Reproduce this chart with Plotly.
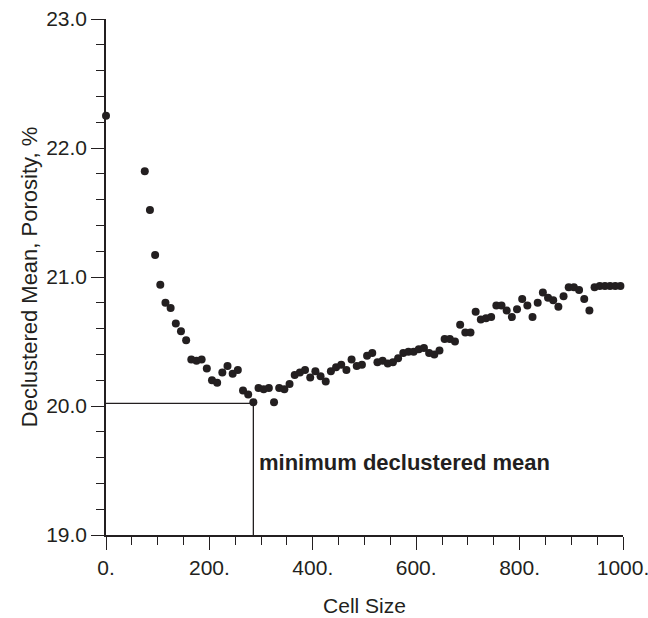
import plotly.graph_objects as go

# Data
cell_size = [0] + list(range(75, 1000, 10))
declustered_mean = [
    22.25,
    21.82, 21.52, 21.17, 20.94, 20.80, 20.76, 20.64, 20.58, 20.51, 20.36,
    20.35, 20.36, 20.29, 20.20, 20.18, 20.26, 20.31, 20.25, 20.28, 20.12,
    20.09, 20.03, 20.14, 20.13, 20.14, 20.03, 20.14, 20.13, 20.17, 20.24,
    20.26, 20.28, 20.22, 20.27, 20.23, 20.19, 20.27, 20.30, 20.32, 20.28,
    20.36, 20.31, 20.32, 20.39, 20.41, 20.34, 20.35, 20.33, 20.34, 20.37,
    20.41, 20.42, 20.42, 20.44, 20.45, 20.41, 20.40, 20.43, 20.52, 20.52,
    20.50, 20.63, 20.57, 20.57, 20.73, 20.67, 20.68, 20.69, 20.78, 20.78,
    20.74, 20.69, 20.75, 20.83, 20.78, 20.69, 20.80, 20.88, 20.84, 20.82,
    20.77, 20.85, 20.92, 20.92, 20.90, 20.83, 20.74, 20.92, 20.93, 20.93,
    20.93, 20.93, 20.93,
]
x_tick_step = 200
y_tick_step = 1
min_cell = 285
min_mean = 20.02
annotation_text = "minimum declustered mean"

ink = "#231f20"
font_family = "Liberation Sans, Arial, Helvetica, sans-serif"

fig = go.Figure()
fig.add_trace(go.Scatter(
    x=[0, min_cell, min_cell], y=[min_mean, min_mean, 19],
    mode="lines", line=dict(color=ink, width=1.3),
    hoverinfo="skip", showlegend=False, cliponaxis=False,
))
fig.add_trace(go.Scatter(
    x=cell_size, y=declustered_mean, mode="markers",
    marker=dict(color=ink, size=8, line=dict(width=0)),
    showlegend=False, cliponaxis=False,
))
fig.add_annotation(
    x=min_cell, y=19.56, xshift=4, text=annotation_text, showarrow=False,
    xanchor="left", yanchor="middle",
    font=dict(family=font_family, size=22, color=ink, weight="bold"),
)

axis_common = dict(
    showgrid=False, zeroline=False, showline=True, linecolor=ink, linewidth=1.5,
    ticks="outside", ticklen=13, tickwidth=1.3, tickcolor=ink,
    tickfont=dict(family=font_family, size=21, color=ink),
    ticklabeloverflow="allow",
)
fig.update_xaxes(
    range=[0, 1000], tickmode="linear", tick0=0, dtick=x_tick_step,
    tickformat="d", ticksuffix=".",
    title=dict(text="Cell Size", font=dict(family=font_family, size=21, color=ink), standoff=20),
    minor=dict(tick0=0, dtick=50, ticks="outside", ticklen=8, tickwidth=1.3, tickcolor=ink, showgrid=False),
    **axis_common,
)
fig.update_yaxes(
    range=[19, 23], tickmode="linear", tick0=19, dtick=y_tick_step,
    tickformat=".1f",
    title=dict(text="Declustered Mean, Porosity, %", font=dict(family=font_family, size=22, color=ink), standoff=2),
    minor=dict(tick0=19, dtick=0.2, ticks="outside", ticklen=8, tickwidth=1.3, tickcolor=ink, showgrid=False),
    **axis_common,
)
fig.update_layout(
    width=648, height=618,
    margin=dict(l=106, r=25, t=19, b=83, autoexpand=False),
    paper_bgcolor="white", plot_bgcolor="white",
    font=dict(family=font_family, color=ink),
)
fig.write_html(
    "out.html",
    config={"displayModeBar": False},
    post_script="document.body.style.margin='0px';document.body.style.overflow='hidden';",
)
